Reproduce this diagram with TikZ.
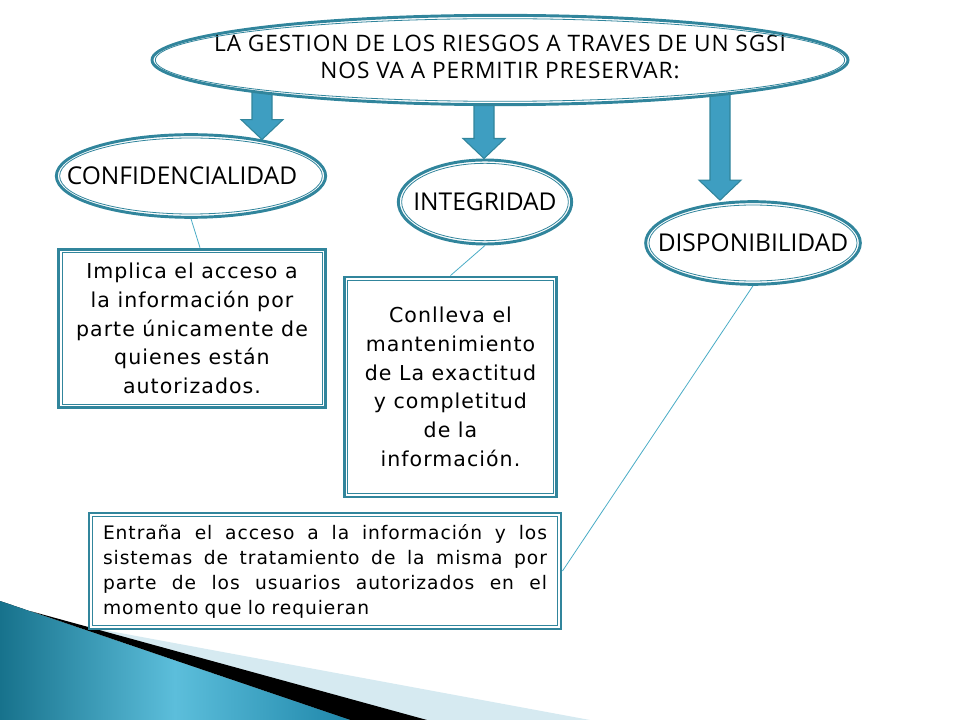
\documentclass[tikz,border=0pt]{standalone}
\usepackage{fontspec}
\usetikzlibrary{shapes.geometric,calc,backgrounds}
\newfontfamily\ovalfont{Open Sans}
\newfontfamily\headfont[LetterSpace=4]{Open Sans}
\newfontfamily\boxfont[LetterSpace=5]{DejaVu Sans}
\definecolor{tealline}{HTML}{31859C}
\definecolor{linkblue}{HTML}{4BACC6}
\definecolor{arrowfill}{HTML}{3E9EC1}
\definecolor{stripdark}{HTML}{17728C}
\definecolor{striplight}{HTML}{5CBEDB}
\definecolor{stripmid}{HTML}{1F87AA}
\definecolor{stripwhite}{HTML}{D6EAF1}

\tikzset{
  oval/.style={ellipse, draw=tealline, line width=2.2pt, fill=white, inner sep=0pt,
    font=\ovalfont\fontsize{18.4}{22}\selectfont},
  textbox/.style={rectangle, draw=tealline, line width=2.2pt, fill=white, align=center,
    font=\boxfont\fontsize{15.4}{21.5}\selectfont},
  inline/.style={draw=tealline, line width=0.6pt},
  link/.style={draw=linkblue, line width=0.6pt},
  bigarrow/.style={draw=tealline, line width=0.8pt, fill=arrowfill, line join=miter},
}

\newcommand{\ringin}[1]{\draw[inline] let \p1=(#1.center), \p2=(#1.east), \p3=(#1.north) in
  (\p1) ellipse ({\x2-\x1-3.6pt} and {\y3-\y1-3.6pt});}
\newcommand{\framein}[1]{\draw[inline] ([shift={(3.6pt,3.6pt)}]#1.south west)
  rectangle ([shift={(-3.6pt,-3.6pt)}]#1.north east);}
\newcommand{\blockarrow}[2]{\draw[bigarrow] let \p1=(#1), \p2=(#2) in
  (\x1-7.5pt,\y1) -- (\x1+7.5pt,\y1) -- (\x1+7.5pt,\y2+15pt) -- (\x1+15.75pt,\y2+15pt)
  -- (\x1,\y2) -- (\x1-15.75pt,\y2+15pt) -- (\x1-7.5pt,\y2+15pt) -- cycle;}
\newcommand{\fullline}[1]{\hbox to 333pt{\spaceskip=0.3em plus 1fil\relax #1}}

\begin{document}
\begin{tikzpicture}[x=0.75pt,y=0.75pt]
  \useasboundingbox (0,0) rectangle (960,-720);

  % ovals
  \node[oval, minimum width=522pt, minimum height=67pt] (top) at (500,-60)
    {\makebox[0pt]{\headfont\fontsize{17}{20.25}\selectfont\begin{tabular}{@{}c@{}}LA GESTION DE LOS RIESGOS A TRAVES DE UN SGSI\\NOS VA A PERMITIR PRESERVAR:\end{tabular}}};
  \node[oval, minimum width=202pt, minimum height=62pt] (conf) at (191,-176)
    {\makebox[0pt]{CONFIDENCIALIDAD\hspace{13.5pt}}};
  \node[oval, minimum width=130pt, minimum height=63pt] (integ) at (485,-202)
    {\makebox[0pt]{INTEGRIDAD}};
  \node[oval, minimum width=161pt, minimum height=62pt] (disp) at (753,-243)
    {\makebox[0pt]{DISPONIBILIDAD}};
  \foreach \nd in {top,conf,integ,disp} {\ringin{\nd}}

  % boxes
  \node[textbox, minimum width=200pt, minimum height=119pt] (b1) at (192,-328.5)
    {Implica el acceso a\\la información por\\parte únicamente de\\quienes están\\autorizados.};
  \node[textbox, minimum width=159.5pt, minimum height=165pt] (b2) at (450.5,-387)
    {Conlleva el\\mantenimiento\\de La exactitud\\y completitud\\de la\\información.};
  \node[textbox, text width=333pt, inner xsep=10.5pt, minimum height=87pt, align=left,
    font=\boxfont\fontsize{14}{18.75}\selectfont] (b3) at (325,-571)
    {\fullline{Entraña el acceso a la información y los}
     \fullline{sistemas de tratamiento de la misma por}
     \fullline{parte de los usuarios autorizados en el}
     \hbox{momento que lo requieran}};
  \foreach \nd in {b1,b2,b3} {\framein{\nd}}

  % thin links
  \draw[link] (conf.south) -- ([xshift=6pt]b1.north);
  \draw[link] (integ.south) -- (b2.north);
  \draw[link] (disp.south) -- (b3.east);

  \begin{scope}[on background layer]
    % block arrows
    \coordinate (s1) at (262,-60);
    \coordinate (s2) at (484,-60);
    \coordinate (s3) at (720,-60);
    \blockarrow{s1}{s1 |- conf.27}
    \blockarrow{s2}{s2 |- integ.north}
    \blockarrow{s3}{s3 |- disp.north}
    % corner strip
    \fill[stripwhite] (50,-620) -- (590,-720) -- (420,-720) -- cycle;
    \fill[black] (30,-611) -- (427,-720) -- (350,-720) -- cycle;
    \fill[left color=stripdark, right color=stripmid, middle color=striplight]
      (0,-601) -- (350,-720) -- (0,-720) -- cycle;
  \end{scope}
\end{tikzpicture}
\end{document}
